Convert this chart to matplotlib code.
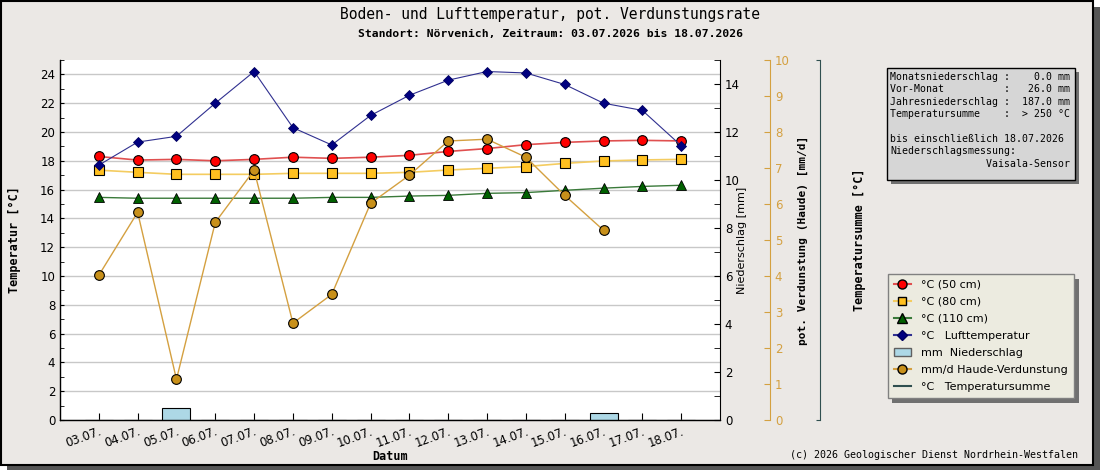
import matplotlib.pyplot as plt
from matplotlib.patches import Rectangle
from matplotlib.lines import Line2D
from matplotlib.ticker import MultipleLocator, NullFormatter
import numpy as np

# --- data ---
dates = ["03.07.", "04.07.", "05.07.", "06.07.", "07.07.", "08.07.", "09.07.", "10.07.",
         "11.07.", "12.07.", "13.07.", "14.07.", "15.07.", "16.07.", "17.07.", "18.07."]
t50 = [18.3, 18.05, 18.1, 18.0, 18.1, 18.25, 18.17, 18.25,
       18.38, 18.65, 18.85, 19.12, 19.28, 19.38, 19.42, 19.38]
t80 = [17.35, 17.2, 17.06, 17.06, 17.06, 17.13, 17.13, 17.13,
       17.2, 17.36, 17.48, 17.6, 17.82, 17.99, 18.06, 18.1]
t110 = [15.46, 15.4, 15.4, 15.4, 15.4, 15.4, 15.46, 15.46,
        15.55, 15.6, 15.74, 15.79, 15.95, 16.1, 16.22, 16.3]
tair = [17.7, 19.3, 19.7, 22.0, 24.2, 20.3, 19.1, 21.15,
        22.55, 23.6, 24.2, 24.1, 23.3, 22.0, 21.5, 19.05]
rain = [0, 0, 0.5, 0, 0, 0, 0, 0, 0, 0, 0, 0, 0, 0.3, 0, 0]
haude = [4.02, 5.77, 1.13, 5.49, 6.94, 2.69, 3.49, 6.02,
         6.8, 7.75, 7.8, 7.3, 6.24, 5.27, np.nan, np.nan]

info_lines = [
    "Monatsniederschlag :    0.0 mm",
    "Vor-Monat          :   26.0 mm",
    "Jahresniederschlag :  187.0 mm",
    "Temperatursumme    :  > 250 °C",
    "",
    "bis einschließlich 18.07.2026",
    "Niederschlagsmessung:",
    "                Vaisala-Sensor",
]

W, H = 1100, 470
BG = "#ebe8e5"
GOLD = "#d4a040"
MONO = "DejaVu Sans Mono"


def fx(px):
    return px / W


def fy(py):
    return 1 - py / H


def box(x0, y0, x1, y1, **kw):
    # rectangle given in pixel coords (top-left origin)
    return Rectangle((fx(x0), fy(y1)), fx(x1) - fx(x0), fy(y0) - fy(y1),
                     transform=fig.transFigure, **kw)


fig = plt.figure(figsize=(11, 4.7), dpi=100)
fig.patch.set_facecolor("#ffffff")

# frame with shadow
fig.patches.append(box(7, 7, 1100, 470, facecolor="#555555", edgecolor="none", zorder=-3))
fig.patches.append(box(0.5, 0.5, 1093, 465, facecolor=BG, edgecolor="black", linewidth=1.5, zorder=-2))

x = np.arange(len(dates))

ax = fig.add_axes([fx(60), fy(420), fx(660), 360 / H])
ax.set_facecolor("white")
ax.set_xlim(-1, 16)
ax.set_ylim(0, 25)
ax.yaxis.set_major_locator(MultipleLocator(2))
ax.yaxis.set_minor_locator(MultipleLocator(1))
ax.grid(axis="y", color="#c8c8c8", linewidth=1)
ax.set_axisbelow(True)
ax.spines["top"].set_visible(False)
ax.spines["right"].set_visible(False)
ax.tick_params(axis="y", which="both", direction="in", labelsize=8.5, length=3)
ax.tick_params(axis="x", direction="in", length=5, labelsize=8.5)
ax.set_xticks(x)
ax.set_xticklabels(dates, rotation=20, ha="right", rotation_mode="anchor")

ax.plot(x, t50, color="#e05050", lw=1.2, marker="o", ms=7, mfc="#ff0000", mec="black", mew=0.8,
        zorder=4)
ax.plot(x, t80, color="#f4cc60", lw=1.2, marker="s", ms=6.5, mfc="#ffc020", mec="black", mew=0.8,
        zorder=4)
ax.plot(x, t110, color="#3a7a3a", lw=1.0, marker="^", ms=7, mfc="#006000", mec="black", mew=0.6,
        zorder=4)
ax.plot(x, tair, color="#303090", lw=0.8, marker="D", ms=5.5, mfc="#000080", mec="#000060", mew=0.6,
        zorder=5)
ax.set_ylabel("Temperatur [°C]", family=MONO, weight="bold", fontsize=8.5, labelpad=14)

# Niederschlag axis
ax2 = ax.twinx()
ax2.set_ylim(0, 15)
ax2.bar(x, rain, width=0.72, color="#add8e6", edgecolor="black", linewidth=0.8, zorder=2)
ax2.yaxis.set_major_locator(MultipleLocator(2))
ax2.yaxis.set_minor_locator(MultipleLocator(1))
ax2.tick_params(axis="y", which="both", direction="in", labelsize=8.5, length=4)
ax2.spines["top"].set_visible(False)
ax2.set_ylabel("Niederschlag [mm]", fontsize=8, labelpad=-2)

# Haude axis
ax3 = ax.twinx()
ax3.set_ylim(0, 10)
ax3.spines["right"].set_position(("axes", (770 - 60) / 660))
ax3.spines["right"].set_color(GOLD)
ax3.spines["top"].set_visible(False)
ax3.yaxis.set_major_locator(MultipleLocator(1))
ax3.tick_params(axis="y", direction="in", colors=GOLD, labelsize=8.5, length=4)
ax3.plot(x, haude, color=GOLD, lw=1.0, marker="o", ms=7, mfc="#c8901a", mec="black", mew=0.8,
         zorder=6)
ax3.set_ylabel("pot. Verdunstung (Haude) [mm/d]", family=MONO, weight="bold", fontsize=8,
               labelpad=6)

# Temperatursumme axis (no series drawn in this period)
ax4 = ax.twinx()
ax4.set_ylim(0, 1)
ax4.spines["right"].set_position(("axes", (820 - 60) / 660))
ax4.spines["right"].set_color("#2f4f4f")
ax4.spines["top"].set_visible(False)
ax4.set_yticks([0, 1])
ax4.yaxis.set_major_formatter(NullFormatter())
ax4.tick_params(axis="y", direction="in", colors="#2f4f4f", length=3)
ax4.set_ylabel("Temperatursumme [°C]", family=MONO, weight="bold", fontsize=8.5, labelpad=20)

# titles
fig.text(0.5, fy(15), "Boden- und Lufttemperatur, pot. Verdunstungsrate", family=MONO,
         fontsize=10.5, ha="center", va="center")
fig.text(0.5, fy(34), "Standort: Nörvenich, Zeitraum: 03.07.2026 bis 18.07.2026", family=MONO,
         weight="bold", fontsize=8.2, ha="center", va="center")
fig.text(fx(390), fy(457), "Datum", family=MONO, weight="bold", fontsize=8.5,
         ha="center", va="center")
fig.text(fx(1078), fy(455), "(c) 2026 Geologischer Dienst Nordrhein-Westfalen", family=MONO,
         fontsize=7.2, ha="right", va="center")

# info box
fig.patches.append(box(891, 72, 1079, 184, facecolor="#707070", edgecolor="none"))
fig.patches.append(box(887, 68, 1075, 180, facecolor="#d6d6d6", edgecolor="black", linewidth=1))
fig.text(fx(890), fy(72), "\n".join(info_lines), family=MONO, fontsize=7.1, ha="left", va="top",
         linespacing=1.3)

# legend
handles = [
    Line2D([0], [0], color="#e05050", marker="o", mfc="#ff0000", mec="black", ms=6.5),
    Line2D([0], [0], color="#f4cc60", marker="s", mfc="#ffc020", mec="black", ms=6),
    Line2D([0], [0], color="#3a7a3a", marker="^", mfc="#006000", mec="black", ms=6.5),
    Line2D([0], [0], color="#303090", marker="D", mfc="#000080", mec="#000060", ms=5),
    Rectangle((0, 0), 1, 1, facecolor="#add8e6", edgecolor="#606060"),
    Line2D([0], [0], color=GOLD, marker="o", mfc="#c8901a", mec="black", ms=6.5),
    Line2D([0], [0], color="#2f4f4f", lw=1.5),
]
labels = ["°C (50 cm)", "°C (80 cm)", "°C (110 cm)", "°C   Lufttemperatur",
          "mm  Niederschlag", "mm/d Haude-Verdunstung", "°C   Temperatursumme"]
fig.patches.append(box(892, 279, 1079, 403, facecolor="#707070", edgecolor="none"))
leg = fig.legend(handles, labels, loc="upper left", bbox_to_anchor=(fx(888), fy(274)),
                 fontsize=8, frameon=True, fancybox=False, handlelength=1.6,
                 handletextpad=0.9, labelspacing=0.64, borderpad=0.5, borderaxespad=0)
leg.get_frame().set_facecolor("#ecebe0")
leg.get_frame().set_edgecolor("#808080")
leg.get_frame().set_alpha(1)

fig.savefig("out.png", dpi=100, facecolor=fig.get_facecolor())
